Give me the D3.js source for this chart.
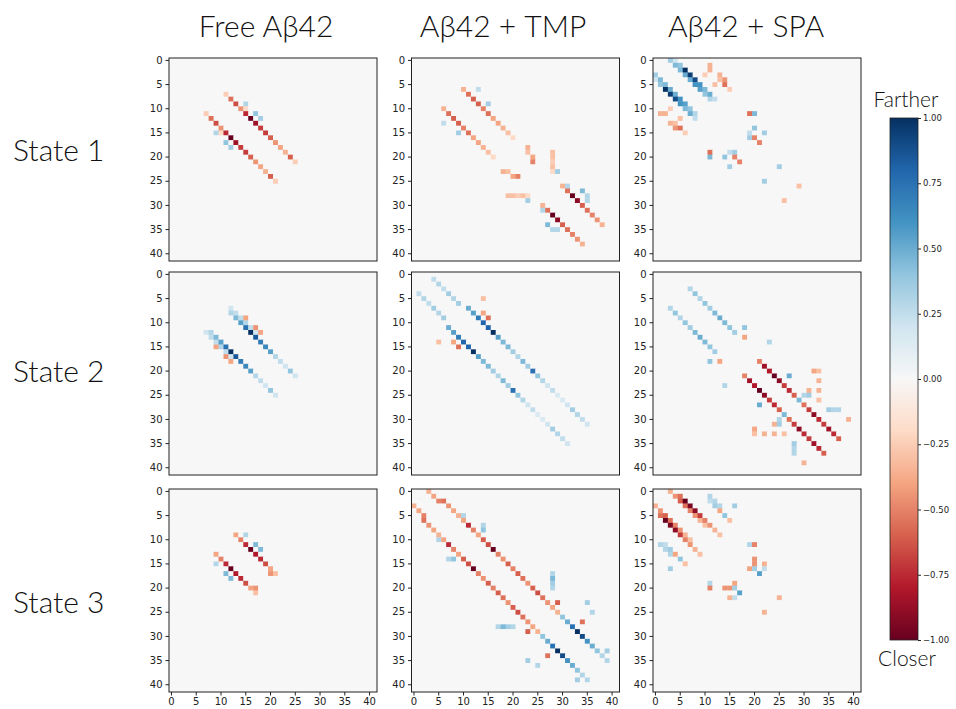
<!DOCTYPE html>
<html>
<head>
<meta charset="utf-8">
<script src="https://cdn.jsdelivr.net/npm/d3@7"></script>
<style>
  body { margin: 0; background: #fff; }
  svg { display: block; }
</style>
</head>
<body>
<div id="vis"></div>
<script>
// residues 0..41, contact-difference maps (symmetric)
const N = 42;
const axisTicks = [0, 5, 10, 15, 20, 25, 30, 35, 40];
const columnTitles = ["Free A\u03b242", "A\u03b242 + TMP", "A\u03b242 + SPA"];
const rowTitles = ["State 1", "State 2", "State 3"];
const colorTicks = [1, 0.75, 0.5, 0.25, 0, -0.25, -0.5, -0.75, -1];

// stripes: [offset from diagonal, first row, values along the stripe]
// cells: [row, col, value]
// both are mirrored across the diagonal when drawn
const free1Stripes = [
  [4, 8, [-0.55, -0.65, -0.45, -0.75, -1.0, -0.85, -0.7, -0.7, -0.6, -0.45, -0.4, -0.35, -0.6, -0.25]]
];
const free1Cells = [[9, 15, 0.3], [11, 17, 0.4], [12, 18, 0.35], [7, 11, -0.25], [10, 15, -0.2]];

const tmp1Stripes = [
  [4, 6, [-0.35, -0.55, -0.6, -0.6, -0.5, -0.55, -0.4, -0.4, -0.35, -0.3, -0.2]],
  [4, 26, [-0.35, -0.55, -1.0, -0.9, -0.6, -0.55, -0.5, -0.45, -0.35]]
];
const tmp1Cells = [
  [6, 13, 0.25], [9, 15, 0.35], [18, 23, -0.35], [19, 23, -0.3], [20, 24, -0.4], [21, 24, -0.5],
  [19, 28, -0.3], [20, 28, -0.3], [21, 28, -0.25], [22, 28, -0.3], [23, 28, -0.2],
  [27, 34, 0.45], [28, 35, 0.3], [29, 35, 0.3], [26, 31, 0.3], [23, 29, 0.35]
];

const spa1Stripes = [
  [3, 0, [0.35, 0.45, 0.45, 0.5, 0.5, 0.6, 0.55, 0.4, 0.3]],
  [4, 0, [0.2, 0.4, 1.0, 0.95, 0.9, 0.6, 0.45, 0.5, 0.25]]
];
const spa1Cells = [
  [2, 11, -0.35], [3, 10, -0.25], [4, 13, -0.3], [5, 14, -0.55], [6, 15, -0.25], [1, 11, -0.35],
  [3, 13, -0.35], [4, 14, -0.45], [5, 12, -0.3],
  [11, 19, -0.55], [11, 20, 0.45], [14, 20, 0.4], [15, 19, 0.25], [16, 19, 0.35], [16, 20, -0.5],
  [17, 21, -0.5], [15, 22, 0.35], [22, 25, 0.35], [26, 29, -0.3]
];

const free2Stripes = [
  [4, 8, [0.3, 0.45, 0.55, 0.75, 1.0, 0.85, 0.7, 0.65, 0.55, 0.3, 0.25, 0.2, 0.4, 0.2]],
  [5, 7, [0.2, 0.25, 0.25, 0.3, 0.25, 0.2]]
];
const free2Cells = [[9, 15, -0.4], [11, 17, -0.45], [12, 18, -0.4]];

const tmp2Stripes = [
  [4, 7, [0.5, 0.55, 0.7, 0.8, 0.8, 1.0, 0.55, 0.45, 0.45, 0.35, 0.3, 0.45, 0.35, 0.75, 0.4, 0.3,
          0.2, 0.25, 0.15, 0.15, 0.2, 0.35, 0.3, 0.25, 0.2]],
  [3, 1, [0.25, 0.3, 0.25, 0.35, 0.3, 0.35]]
];
const tmp2Cells = [[8, 14, -0.4], [9, 15, -0.55], [5, 14, -0.3]];

const spa2Stripes = [
  [4, 3, [0.3, 0.4, 0.3, 0.4, 0.35, 0.45, 0.5, 0.45, 0.4, 0.35]],
  [3, 18, [-0.5, -0.85, -0.8, -1.0, -0.9, -0.7, -0.75, -0.6, -0.5, -0.55, -0.7, -0.9, -0.75, -0.7,
           -0.85, -0.75, -0.6]]
];
const spa2Cells = [
  [11, 18, 0.4], [13, 18, -0.4], [14, 23, 0.3], [21, 27, 0.5], [26, 29, 0.45], [25, 30, 0.3],
  [25, 31, 0.35], [28, 35, 0.35], [28, 36, 0.3], [28, 37, 0.3], [20, 32, -0.4], [24, 31, -0.35],
  [30, 39, -0.35], [20, 33, -0.3], [22, 33, -0.35], [24, 33, -0.35], [26, 33, -0.3]
];

const free3Stripes = [
  [4, 9, [-0.4, -0.5, -0.75, -1.0, -0.8, -0.75, -0.65, -0.45, -0.3]]
];
const free3Cells = [[9, 15, 0.3], [11, 17, 0.45], [12, 18, 0.45], [16, 20, -0.4], [17, 20, -0.45]];

const tmp3Stripes = [
  [3, 0, [-0.35, -0.4, -0.5]],
  [4, 2, [-0.55, -0.45, -0.4, -0.35, -0.4, -0.75, -0.5, -0.4, -0.6, -0.65, -1.0, -0.5, -0.45, -0.6,
          -0.5, -0.6, -0.55, -0.45, -0.6, -0.65, -0.55, -0.45, -0.4, -0.35, -0.3]],
  [4, 25, [0.35, 0.4, 0.5, 0.75, 1.0, 0.9, 0.6, 0.5, 0.4, 0.3, 0.3]]
];
const tmp3Cells = [
  [23, 29, -0.6], [25, 29, -0.35], [27, 34, -0.55], [8, 14, 0.4], [5, 10, 0.3], [7, 14, 0.3],
  [17, 28, 0.3], [18, 28, 0.45], [19, 28, 0.35], [20, 28, 0.3], [23, 35, 0.35], [25, 36, 0.3],
  [33, 39, 0.35]
];

const spa3Stripes = [
  [3, 0, [-0.35, -0.45, -0.6, -0.55, -0.5, -0.45, -0.35, -0.3]],
  [4, 1, [-0.55, -1.0, -0.95, -0.9, -0.7, -0.5, -0.45, -0.35, -0.3]]
];
const spa3Cells = [
  [1, 11, 0.3], [2, 11, 0.25], [2, 12, 0.3], [3, 12, 0.35], [3, 13, 0.3], [5, 14, 0.4], [3, 16, 0.35],
  [4, 13, -0.4], [6, 15, -0.3], [11, 19, 0.3], [11, 20, -0.5], [14, 20, -0.45], [15, 20, -0.45],
  [16, 19, -0.4], [16, 20, 0.35], [17, 21, 0.55], [15, 22, -0.35], [16, 22, 0.25], [22, 25, -0.35]
];

const panels = [
  [free1Stripes, free1Cells], [tmp1Stripes, tmp1Cells], [spa1Stripes, spa1Cells],
  [free2Stripes, free2Cells], [tmp2Stripes, tmp2Cells], [spa2Stripes, spa2Cells],
  [free3Stripes, free3Cells], [tmp3Stripes, tmp3Cells], [spa3Stripes, spa3Cells]
];

// layout
const WIDTH = 956, HEIGHT = 709;
const colX = [169, 411.5, 653];
const rowY = [58, 272, 489];
const PANEL_W = 208, PANEL_H = 203;

const svg = d3.select("#vis").append("svg").attr("width", WIDTH).attr("height", HEIGHT);

const idx = d3.range(N);
const x = d3.scaleBand().domain(idx).range([0, PANEL_W]);
const y = d3.scaleBand().domain(idx).range([0, PANEL_H]);
// matplotlib-style RdBu: red for negative, blue for positive
const rdbu = d3.schemeRdBu[11];
const color = d3.scaleLinear()
  .domain(d3.range(11).map(i => -1 + i * 0.2))
  .range(rdbu)
  .interpolate(d3.interpolateRgb)
  .clamp(true);

function buildMatrix(stripes, cells) {
  const m = idx.map(() => idx.map(() => 0));
  const put = (i, j, v) => { if (i < N && j < N) { m[i][j] = v; m[j][i] = v; } };
  stripes.forEach(([k, from, vals]) => vals.forEach((v, n) => put(from + n, from + n + k, v)));
  cells.forEach(([i, j, v]) => put(i, j, v));
  return m;
}

panels.forEach(([stripes, cells], p) => {
  const r = Math.floor(p / 3), c = p % 3;
  const m = buildMatrix(stripes, cells);
  const g = svg.append("g").attr("transform", `translate(${colX[c]},${rowY[r]})`);

  const flat = [];
  m.forEach((row, i) => row.forEach((v, j) => flat.push({ i, j, v })));

  g.selectAll("rect.cell")
    .data(flat)
    .enter()
    .append("rect")
    .attr("class", "cell")
    .attr("x", d => x(d.j))
    .attr("y", d => y(d.i))
    .attr("width", x.bandwidth() + 0.4)
    .attr("height", y.bandwidth() + 0.4)
    .attr("fill", d => color(d.v));

  g.append("rect")
    .attr("width", PANEL_W).attr("height", PANEL_H)
    .attr("fill", "none").attr("stroke", "#222").attr("stroke-width", 1);

  const yAxis = g.append("g").call(d3.axisLeft(y).tickValues(axisTicks).tickSize(3.5).tickPadding(3));
  yAxis.select(".domain").remove();
  yAxis.selectAll("text").attr("font-family", "DejaVu Sans").attr("font-size", 10).attr("fill", "#222");
  yAxis.selectAll("line").attr("stroke", "#222");

  if (r === 2) {
    const xAxis = g.append("g").attr("transform", `translate(0,${PANEL_H})`)
      .call(d3.axisBottom(x).tickValues(axisTicks).tickSize(3.5).tickPadding(2));
    xAxis.select(".domain").remove();
    xAxis.selectAll("text").attr("font-family", "DejaVu Sans").attr("font-size", 10).attr("fill", "#222");
    xAxis.selectAll("line").attr("stroke", "#222");
  }
});

const labelFont = "Lato, 'Open Sans', sans-serif";

// column titles
const titleX = [266, 503, 746];
svg.selectAll("text.coltitle")
  .data(columnTitles)
  .enter()
  .append("text")
  .attr("class", "coltitle")
  .attr("x", (d, i) => titleX[i])
  .attr("y", 37)
  .attr("text-anchor", "middle")
  .attr("font-family", labelFont)
  .attr("font-weight", 300)
  .attr("font-size", 30)
  .attr("fill", "#111")
  .text(d => d);

// row titles
const rowBase = [161, 382, 613];
svg.selectAll("text.rowtitle")
  .data(rowTitles)
  .enter()
  .append("text")
  .attr("class", "rowtitle")
  .attr("x", 13)
  .attr("y", (d, i) => rowBase[i])
  .attr("font-family", labelFont)
  .attr("font-weight", 300)
  .attr("font-size", 30)
  .attr("fill", "#111")
  .text(d => d);

// colorbar
const CB_X = 890, CB_W = 28, CB_TOP = 118, CB_BOT = 640;
const cbScale = d3.scaleLinear().domain([1, -1]).range([CB_TOP, CB_BOT]);
const grad = svg.append("defs").append("linearGradient")
  .attr("id", "cbgrad").attr("x1", 0).attr("x2", 0).attr("y1", 0).attr("y2", 1);
d3.range(0, 1.0001, 0.02).forEach(t => {
  grad.append("stop").attr("offset", t).attr("stop-color", color(1 - 2 * t));
});
svg.append("rect")
  .attr("x", CB_X).attr("y", CB_TOP).attr("width", CB_W).attr("height", CB_BOT - CB_TOP)
  .attr("fill", "url(#cbgrad)").attr("stroke", "#222").attr("stroke-width", 0.8);

const cbAxis = svg.append("g").attr("transform", `translate(${CB_X + CB_W},0)`)
  .call(d3.axisRight(cbScale).tickValues(colorTicks).tickFormat(d3.format(".2f")).tickSize(3).tickPadding(2));
cbAxis.select(".domain").remove();
cbAxis.selectAll("text").attr("font-family", "DejaVu Sans").attr("font-size", 8.5).attr("fill", "#222");
cbAxis.selectAll("line").attr("stroke", "#222");

svg.append("text").attr("x", 906).attr("y", 107).attr("text-anchor", "middle")
  .attr("font-family", labelFont).attr("font-weight", 300).attr("font-size", 21).attr("fill", "#111")
  .text("Farther");
svg.append("text").attr("x", 907).attr("y", 666).attr("text-anchor", "middle")
  .attr("font-family", labelFont).attr("font-weight", 300).attr("font-size", 21).attr("fill", "#111")
  .text("Closer");
</script>
</body>
</html>
